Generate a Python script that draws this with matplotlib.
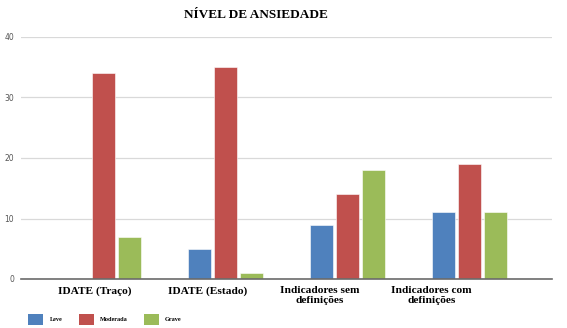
import numpy as np
import matplotlib.pyplot as plt
from matplotlib.patches import Patch

categories = ["IDATE (Traço)", "IDATE (Estado)", "Indicadores sem\ndefinições", "Indicadores com\ndefinições"]
series = ["Leve", "Moderada", "Grave"]
leve = [0, 5, 9, 11]
moderada = [34, 35, 14, 19]
grave = [7, 1, 18, 11]
yticks = [0, 10, 20, 30, 40]

colors = ["#4F81BD", "#C0504D", "#9BBB59"]

fig = plt.figure(figsize=(5.67, 3.28), dpi=100)
ax = fig.add_axes([21/567, 1 - 279/328, 531/567, 242/328])

x = np.arange(len(categories))
w = 0.19
step = 0.213
for k, vals in enumerate([leve, moderada, grave]):
    ax.bar(x + (k - 1) * step, vals, width=w, color=colors[k], edgecolor="white", linewidth=0.4, zorder=3)

ax.set_xlim(-0.676, 3.676)
ax.set_ylim(0, 40)
ax.set_yticks(yticks)
ax.tick_params(axis="y", length=0, labelsize=5.5, labelcolor="#555555", pad=5)
ax.yaxis.grid(True, color="#d9d9d9", linewidth=0.9, zorder=0)
for s in ["top", "right", "left"]:
    ax.spines[s].set_visible(False)
ax.spines["bottom"].set_color("#6b6b6b")
ax.spines["bottom"].set_linewidth(1.2)
ax.spines["bottom"].set_zorder(4)

# labels sit a bit left of the bar groups in the original
label_pos = x - 0.07 - 0.08 * x
ax.set_xticks(label_pos)
ax.set_xticklabels(categories, family="Liberation Serif", fontweight="bold", fontsize=8.2, linespacing=1.15)
ax.tick_params(axis="x", length=0, pad=5)

fig.text(0.452, 0.955, "NÍVEL DE ANSIEDADE", ha="center", va="center",
         family="Liberation Serif", fontweight="bold", fontsize=9.5)

handles = [Patch(facecolor=c, edgecolor="none") for c in colors]
fig.legend(handles, series, loc="lower left", bbox_to_anchor=(0.04, -0.008), ncol=3, frameon=False,
           prop={"family": "Liberation Serif", "weight": "bold", "size": 4.5},
           handlelength=2.4, handleheight=2.4, columnspacing=2.6, handletextpad=1.0)

fig.savefig("out.png", dpi=100)
